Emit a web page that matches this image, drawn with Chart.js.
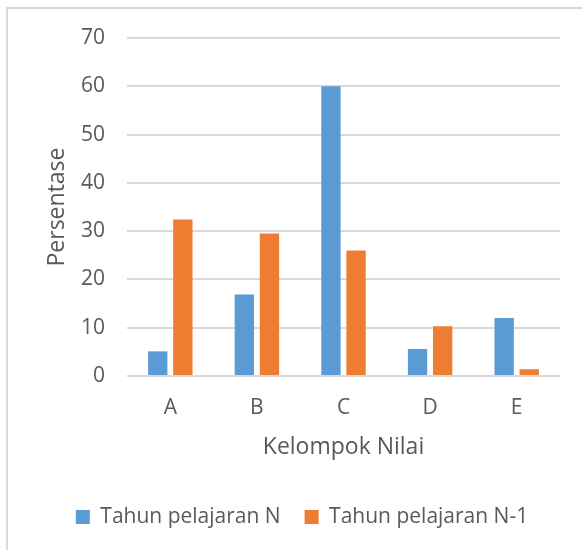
<!DOCTYPE html>
<html>
<head>
<meta charset="utf-8">
<script src="https://cdn.jsdelivr.net/npm/chart.js@4.4.1/dist/chart.umd.min.js"></script>
<style>
    html, body { margin: 0; padding: 0; background: #fff; }
    .frame {
        position: absolute;
        left: 6px; top: 7px;
        width: 600px; height: 600px;
        border-left: 2px solid #d9d9d9;
        border-top: 2px solid #d9d9d9;
    }
    .wrap { position: absolute; left: 0; top: 0; width: 582px; height: 550px; }
</style>
</head>
<body>
<div class="frame"></div>
<div class="wrap"><canvas id="chart" width="582" height="550"></canvas></div>
<script>
// data
const categories = ['A', 'B', 'C', 'D', 'E'];
const seriesN = [5.1, 16.9, 60.0, 5.6, 12.0];
const seriesN1 = [32.4, 29.5, 26.0, 10.3, 1.4];
const yTicks = [0, 10, 20, 30, 40, 50, 60, 70];

const textColor = '#595959';
const gridColor = '#d9d9d9';
const fontFamily = '"Open Sans", "Noto Sans", sans-serif';

Chart.defaults.font.family = fontFamily;
Chart.defaults.color = textColor;

new Chart(document.getElementById('chart'), {
    type: 'bar',
    data: {
        labels: categories,
        datasets: [
            {
                label: 'Tahun pelajaran N',
                data: seriesN,
                backgroundColor: '#5b9bd5',
                categoryPercentage: 0.58,
                barPercentage: 0.77
            },
            {
                label: 'Tahun pelajaran N-1',
                data: seriesN1,
                backgroundColor: '#ed7d31',
                categoryPercentage: 0.58,
                barPercentage: 0.77
            }
        ]
    },
    options: {
        responsive: false,
        animation: false,
        layout: { padding: { top: 38, right: 22, bottom: 12.5, left: 44 } },
        plugins: {
            tooltip: { enabled: false },
            legend: {
                position: 'bottom',
                labels: {
                    boxWidth: 14,
                    boxHeight: 14,
                    padding: 24,
                    font: { size: 21 },
                    color: textColor
                }
            }
        },
        scales: {
            x: {
                afterFit: (scale) => { scale.height = 106.5; },
                grid: { display: false, drawTicks: false },
                border: { display: false },
                ticks: { padding: 19, font: { size: 21 }, color: textColor },
                title: {
                    display: true,
                    text: 'Kelompok Nilai',
                    font: { size: 23 },
                    color: textColor,
                    padding: { top: 0, bottom: 21.7 }
                }
            },
            y: {
                min: 0,
                max: 70,
                afterBuildTicks: (scale) => {
                    scale.ticks = yTicks.map(v => ({ value: v }));
                },
                afterFit: (scale) => { scale.width = 83; },
                grid: { color: gridColor, lineWidth: 2, drawTicks: false },
                border: { display: false },
                ticks: { padding: 22, font: { size: 21 }, color: textColor },
                title: {
                    display: true,
                    text: 'Persentase',
                    font: { size: 23 },
                    color: textColor,
                    padding: { top: 0, bottom: 0 }
                }
            }
        }
    }
});
</script>
</body>
</html>
